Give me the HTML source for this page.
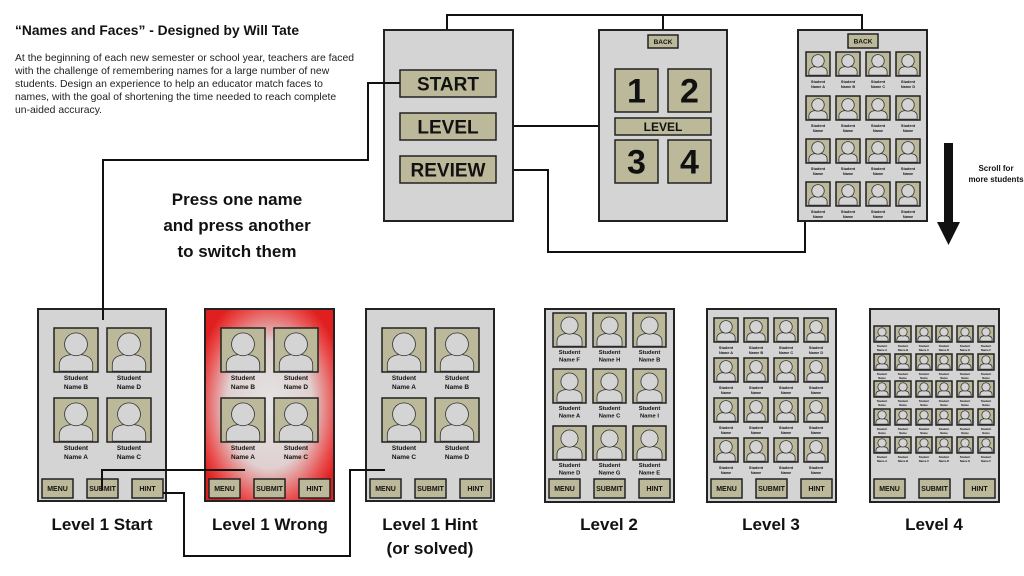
<!DOCTYPE html>
<html><head><meta charset="utf-8"><style>
html,body{margin:0;padding:0;background:#fff;width:1024px;height:576px;overflow:hidden}
svg{display:block;font-family:"Liberation Sans",sans-serif}
.t{font-weight:bold;fill:#111}
</style></head><body>
<svg id="s" width="1024" height="576" viewBox="0 0 1024 576" xmlns="http://www.w3.org/2000/svg">
<defs>
<radialGradient id="rg" cx="50%" cy="50%" r="60%">
<stop offset="0" stop-color="#e4e4e4"/><stop offset="0.55" stop-color="#e0d0d0"/><stop offset="0.85" stop-color="#ea5050"/><stop offset="1" stop-color="#e02020"/>
</radialGradient>
</defs>
<text x="15" y="35" class="t" font-size="13.8">“Names and Faces” - Designed by Will Tate</text>
<g font-size="10.4" fill="#222">
<text x="15" y="61">At the beginning of each new semester or school year, teachers are faced</text>
<text x="15" y="74">with the challenge of remembering names for a large number of new</text>
<text x="15" y="87">students. Design an experience to help an educator match faces to</text>
<text x="15" y="100">names, with the goal of shortening the time needed to reach complete</text>
<text x="15" y="113">un-aided accuracy.</text>
</g>
<g class="t" font-size="17" text-anchor="middle">
<text x="237" y="205">Press one name</text>
<text x="237" y="231">and press another</text>
<text x="237" y="257">to switch them</text>
<text x="102" y="530">Level 1 Start</text>
<text x="270" y="530">Level 1 Wrong</text>
<text x="430" y="530">Level 1 Hint</text>
<text x="430" y="554">(or solved)</text>
<text x="609" y="530">Level 2</text>
<text x="771" y="530">Level 3</text>
<text x="934" y="530">Level 4</text>
</g>
<text x="996" y="171" class="t" font-size="8" text-anchor="middle">Scroll for</text>
<text x="996" y="182" class="t" font-size="8" text-anchor="middle">more students</text>
<rect x="944" y="143" width="9" height="82" fill="#111"/>
<polygon points="937,222 960,222 948.5,245" fill="#111"/>
</svg>
<script>
var s=document.getElementById('s'),h='';
function scr(x,y,w,ht,fill){h+='<rect x="'+x+'" y="'+y+'" width="'+w+'" height="'+ht+'" fill="'+(fill||'#d4d4d4')+'" stroke="#222" stroke-width="2"/>';}
function btn(x,y,w,ht,txt,fs){h+='<rect x="'+x+'" y="'+y+'" width="'+w+'" height="'+ht+'" fill="#bcb99a" stroke="#222" stroke-width="1.5"/>';
 h+='<text x="'+(x+w/2)+'" y="'+(y+ht/2+fs*0.36)+'" class="t" font-size="'+fs+'" text-anchor="middle">'+txt+'</text>';}
function tile(x,y,w,t){h+='<rect x="'+x+'" y="'+y+'" width="'+w+'" height="'+t+'" fill="#bcb99a" stroke="#222" stroke-width="1.5"/>';
 var l=x+w*0.12,r=x+w*0.88,b=y+t-0.8;
 h+='<path d="M'+l+' '+b+' L'+l+' '+(y+t*0.84)+' Q'+l+' '+(y+t*0.6)+' '+(x+w/2)+' '+(y+t*0.6)+' Q'+r+' '+(y+t*0.6)+' '+r+' '+(y+t*0.84)+' L'+r+' '+b+' Z" fill="#d4d4d4" stroke="#333" stroke-width="0.8"/>';
 h+='<circle cx="'+(x+w/2)+'" cy="'+(y+t*0.37)+'" r="'+(w*0.26)+'" fill="#d4d4d4" stroke="#333" stroke-width="0.8"/>';}
function lab(cx,y,a,b,fs,ls){h+='<text x="'+cx+'" y="'+y+'" class="t" font-size="'+fs+'" text-anchor="middle">'+a+'</text><text x="'+cx+'" y="'+(y+ls)+'" class="t" font-size="'+fs+'" text-anchor="middle">'+b+'</text>';}
function grid(cols,rows,w,t,labs,fs,dy,ls){for(var j=0;j<rows.length;j++)for(var i=0;i<cols.length;i++){tile(cols[i],rows[j],w,t);var L=labs(i,j);lab(cols[i]+w/2,rows[j]+t+dy,'Student',L,fs,ls);}}
function bbtns(x0){btn(x0+4,479,31,19,'MENU',7);btn(x0+49,479,31,19,'SUBMIT',7);btn(x0+94,479,31,19,'HINT',7);}
h+='<g fill="none" stroke="#111" stroke-width="2">';
h+='<polyline points="447,30 447,15 862,15 862,34"/><polyline points="663,15 663,35"/>';
h+='<polyline points="496,126 615,126"/>';
h+='<polyline points="496,170 548,170 548,252 805,252 805,221"/>';
h+='</g>';
scr(384,30,129,191);btn(400,70,96,27,'START',19);btn(400,113,96,27,'LEVEL',19);btn(400,156,96,27,'REVIEW',19);
scr(599,30,128,191);btn(648,35,30,13,'BACK',6.5);
btn(615,69,43,43,'1',34);btn(668,69,43,43,'2',34);btn(615,118,96,17,'LEVEL',12);btn(615,140,43,43,'3',34);btn(668,140,43,43,'4',34);
scr(798,30,129,191);btn(848,34,30,14,'BACK',6.5);
grid([806,836,866,896],[52,96,139,182],24,24,function(i,j){return j==0?'Name '+'ABCD'[i]:'Name';},3.8,7,5);
scr(38,309,128,192);scr(205,309,129,192,'url(#rg)');scr(366,309,128,192);
var L1=[['B','D'],['A','C']],LH=[['A','B'],['C','D']];
[[38,L1],[205,L1],[366,LH]].forEach(function(p){var x=p[0];
 grid([x+16,x+69],[328,398],44,44,function(i,j){return 'Name '+p[1][j][i];},6.5,8,9);bbtns(x);});
scr(545,309,129,193);var L2=[['F','H','B'],['A','C','I'],['D','G','E']];
grid([553,593,633],[313,369,426],33,34,function(i,j){return 'Name '+L2[j][i];},5.8,7,7.5);bbtns(545);
scr(707,309,129,193);grid([714,744,774,804],[318,358,398,438],24,24,function(i,j){return j==0?'Name '+'ABCD'[i]:'Name';},3.8,7,5);bbtns(707);
scr(870,309,129,193);grid([874,895,916,936,957,978],[326,354,381,409,437],16,16,function(i,j){return (j==0||j==4)?'Name '+'ABCDEF'[i]:'Name';},2.8,5,4);bbtns(870);
h+='<g fill="none" stroke="#111" stroke-width="2">';
h+='<polyline points="400,83 368,83 368,160 103,160 103,320"/>';
h+='<polyline points="102,490 102,470 245,470"/>';
h+='<polyline points="163,493 184,493 184,556 350,556 350,470 385,470"/>';
h+='</g>';
s.insertAdjacentHTML('beforeend',h);
</script>
</body></html>
